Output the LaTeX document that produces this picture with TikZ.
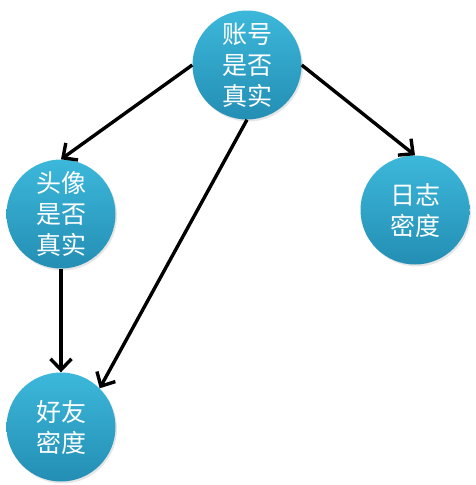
\documentclass[tikz,border=0pt]{standalone}
\usepackage{fontspec}
\newfontfamily\cjk{Noto Sans CJK SC}
\usetikzlibrary{arrows.meta,shadows}
\definecolor{balltop}{RGB}{60,184,218}
\definecolor{ballbottom}{RGB}{36,142,180}
\tikzset{
  feat/.style={circle, minimum size=109pt, inner sep=0pt, align=center,
    top color=balltop, bottom color=ballbottom, text=white,
    font=\cjk\fontsize{25}{31}\selectfont,
    drop shadow={opacity=0.2, shadow xshift=1.5pt, shadow yshift=-2pt}},
  arr/.style={-{Straight Barb[length=11pt,width=21pt]}, line width=3.4pt, black}
}
\begin{document}
\begin{tikzpicture}[x=1pt,y=-1pt]
      \useasboundingbox (0,0) rectangle (476,485);
      \draw
        (247,65) node[feat] (acc){账号\\是否\\真实}
        (61,214) node[feat] (head){头像\\是否\\真实}
        (415,210) node[feat] (blog){日志\\密度}
        (61,427) node[feat] (friend){好友\\密度};
      \begin{scope}[arr]
        \draw (acc.west) to (head.north);
        \draw (acc.east) to (blog.north);
        \draw (acc.south) to (friend.north east);
        \draw (head.south) to (friend.north);
      \end{scope}
    \end{tikzpicture}
\end{document}
